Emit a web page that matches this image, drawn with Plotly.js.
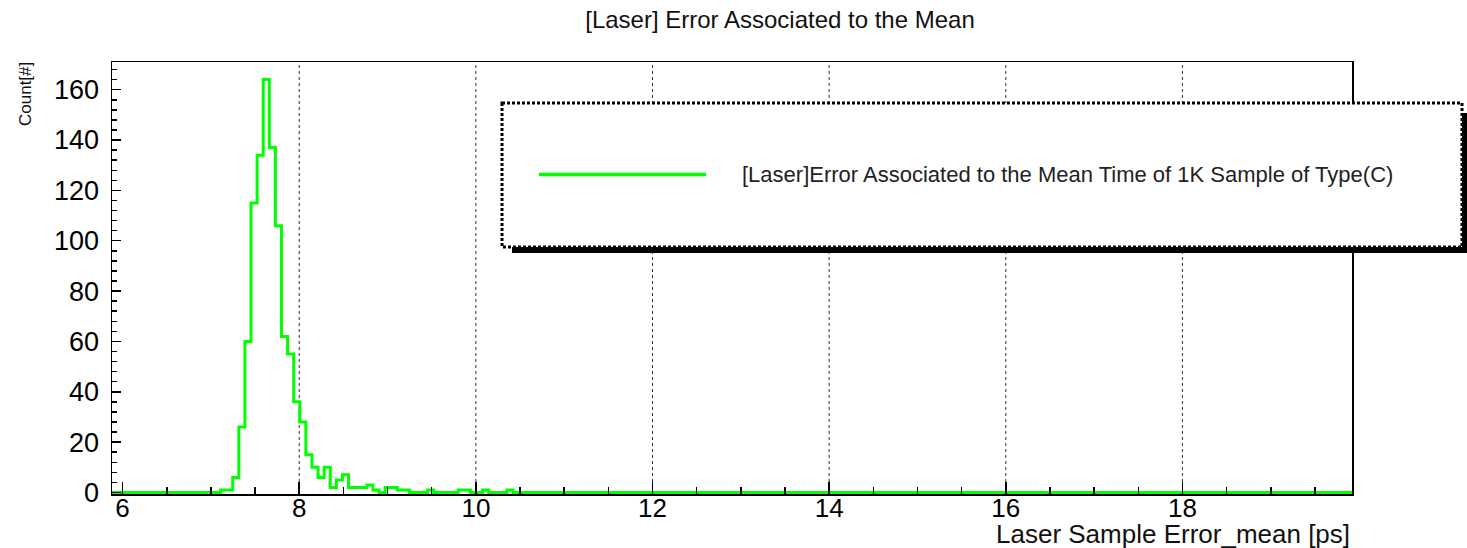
<!DOCTYPE html>
<html>
<head>
<meta charset="utf-8">
<script src="https://cdn.plot.ly/plotly-3.0.1.min.js"></script>
<style>
  html, body { margin: 0; padding: 0; background: #fff; }
  #chart { width: 1467px; height: 548px; }
</style>
</head>
<body>
<div id="chart"></div>
<script>
// Histogram of the laser error on the mean (ps): fixed-width bins
const xRange = [5.88, 19.92];
const yRange = [-0.6, 171];
const binWidth = 0.069;
const firstBinLow = 7.109;
const binCounts = [
  1, 1, 6, 26, 60, 115, 134, 164, 137, 106,
  62, 55, 36, 28, 15, 10, 6, 10, 2, 5,
  7, 2, 2, 2, 3, 1, 0, 2, 2, 1,
  1, 0, 0, 0, 1, 0, 0, 0, 0, 1,
  1, 0, 0, 1, 0, 0, 0, 1
];
const xTickValues = [6, 8, 10, 12, 14, 16, 18];
const xGridValues = [8, 10, 12, 14, 16, 18];
const yTickValues = [0, 20, 40, 60, 80, 100, 120, 140, 160];

const chartTitle = "[Laser] Error Associated to the Mean";
const xTitle = "Laser Sample Error_mean [ps]";
const yTitle = "Count[#]";
const seriesName = "[Laser]Error Associated to the Mean Time of 1K Sample of Type(C)";

// Step outline of the histogram (ROOT-style "hist" drawing)
const stepX = [xRange[0]];
const stepY = [0];
binCounts.forEach((c, i) => {
  stepX.push(firstBinLow + i * binWidth);
  stepY.push(c);
});
stepX.push(firstBinLow + binCounts.length * binWidth);
stepY.push(0);
stepX.push(xRange[1]);
stepY.push(0);

const FONT = "Liberation Sans, Arial, Helvetica, sans-serif";
const GREEN = "#00ff00";

// Plot frame in page pixels, used to place the legend box
const M = { l: 112, r: 115, t: 62, b: 54 };
const W = 1467, H = 548;
const plotW = W - M.l - M.r, plotH = H - M.t - M.b;
const px = v => (v - M.l) / plotW;
const py = v => (H - M.b - v) / plotH;

const trace = {
  type: "scatter",
  mode: "lines",
  x: stepX,
  y: stepY,
  line: { color: GREEN, width: 3, shape: "hv" },
  hoverinfo: "skip",
  showlegend: false
};

// dotted vertical grid at the labelled x positions
const gridShapes = xGridValues.map(v => ({
  type: "line", xref: "x", yref: "paper", layer: "below",
  x0: v, x1: v, y0: 0, y1: 1,
  line: { color: "#333", width: 1, dash: "dot" }
}));

const layout = {
  width: W,
  height: H,
  margin: M,
  paper_bgcolor: "#fff",
  plot_bgcolor: "#fff",
  showlegend: false,
  font: { family: FONT, color: "#000" },
  title: {
    text: chartTitle,
    font: { family: FONT, size: 24, color: "#111" },
    xref: "container", yref: "container",
    x: 780 / W, y: 1 - 20 / H,
    xanchor: "center", yanchor: "middle"
  },
  xaxis: {
    range: xRange,
    tickvals: xTickValues,
    ticktext: xTickValues.map(String),
    ticks: "inside",
    ticklen: 12,
    tickwidth: 1.5,
    tickcolor: "#000",
    tickfont: { family: FONT, size: 26, color: "#000" },
    ticklabelstandoff: -10,
    showgrid: false,
    minor: { dtick: 0.5, ticks: "inside", ticklen: 7, tickwidth: 1.5, tickcolor: "#000", showgrid: false },
    showline: true,
    mirror: true,
    linecolor: "#000",
    linewidth: 1.5,
    zeroline: false
  },
  yaxis: {
    range: yRange,
    tickvals: yTickValues,
    ticktext: yTickValues.map(String),
    ticks: "inside",
    ticklen: 9,
    tickwidth: 1.5,
    tickcolor: "#000",
    tickfont: { family: FONT, size: 27, color: "#000" },
    ticklabelstandoff: 6,
    showgrid: false,
    minor: { dtick: 4, ticks: "inside", ticklen: 5, tickwidth: 1.5, tickcolor: "#000", showgrid: false },
    showline: true,
    mirror: true,
    linecolor: "#000",
    linewidth: 1.5,
    zeroline: false
  },
  shapes: gridShapes.concat([
    // legend shadow
    {
      type: "rect", xref: "paper", yref: "paper", layer: "above",
      x0: px(512), x1: px(1475), y0: py(113), y1: py(253),
      fillcolor: "#000", line: { width: 0 }
    },
    // legend box
    {
      type: "rect", xref: "paper", yref: "paper", layer: "above",
      x0: px(502), x1: px(1462), y0: py(103), y1: py(247),
      fillcolor: "#fff", line: { color: "#000", width: 3, dash: "3px,2px" }
    },
    // legend line sample
    {
      type: "line", xref: "paper", yref: "paper", layer: "above",
      x0: px(539), x1: px(706), y0: py(174.5), y1: py(174.5),
      line: { color: GREEN, width: 3.5 }
    }
  ]),
  annotations: [
    {
      text: seriesName, xref: "paper", yref: "paper",
      x: px(740), y: py(174), xanchor: "left", yanchor: "middle",
      showarrow: false, font: { family: FONT, size: 22, color: "#222" }
    },
    {
      text: xTitle, xref: "paper", yref: "paper",
      x: px(1352), y: py(534), xanchor: "right", yanchor: "middle",
      showarrow: false, font: { family: FONT, size: 26, color: "#111" }
    },
    {
      text: yTitle, xref: "paper", yref: "paper",
      x: px(25), y: py(94), xanchor: "center", yanchor: "middle",
      textangle: -90,
      showarrow: false, font: { family: FONT, size: 17, color: "#111" }
    }
  ]
};

Plotly.newPlot("chart", [trace], layout, { staticPlot: true, displayModeBar: false });
</script>
</body>
</html>
